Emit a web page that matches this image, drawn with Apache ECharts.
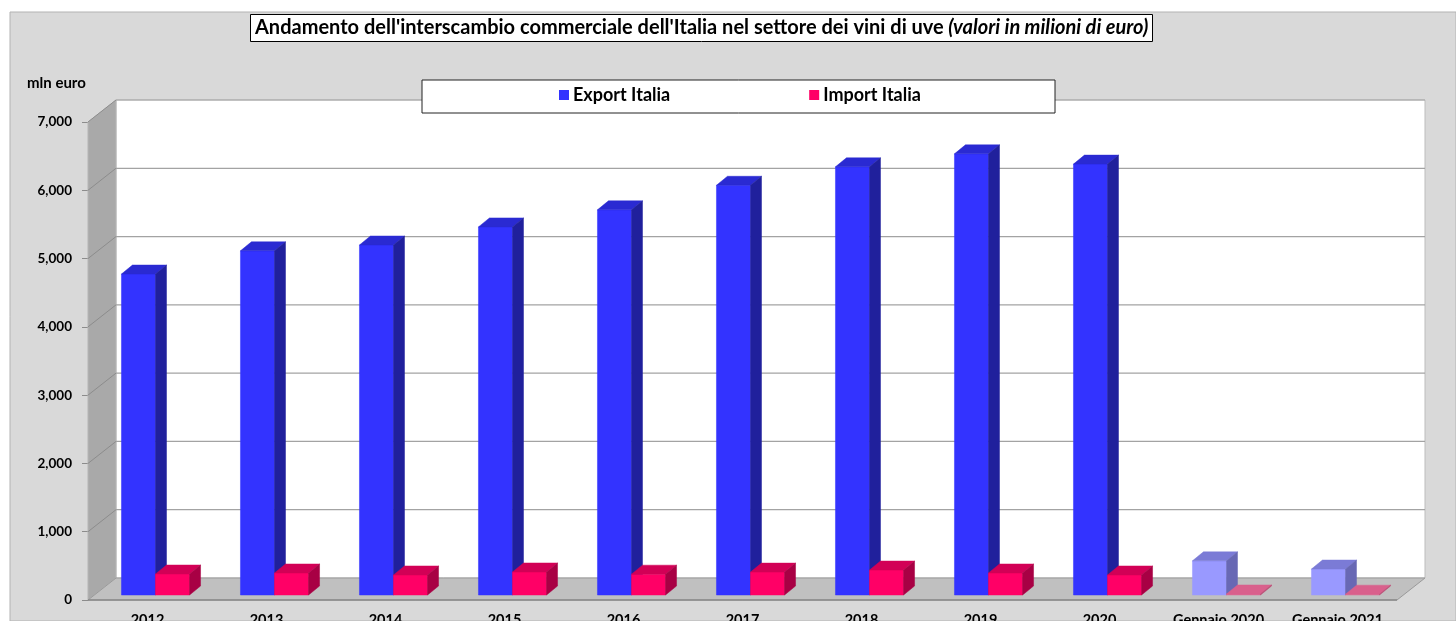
<!DOCTYPE html>
<html>
<head>
<meta charset="utf-8">
<script src="https://cdn.jsdelivr.net/npm/echarts@6/dist/echarts.min.js"></script>
<style>
html,body{margin:0;padding:0;background:#fff;}
#chart{width:1456px;height:621px;}
</style>
</head>
<body>
<div id="chart"></div>
<script>
// ---- data ----
const categories = ['2012','2013','2014','2015','2016','2017','2018','2019','2020','Gennaio 2020','Gennaio 2021'];
const exportValues = [4700, 5040, 5125, 5390, 5640, 6000, 6270, 6460, 6310, 500, 380];
const importValues = [307, 322, 293, 337, 305, 335, 365, 322, 293, 15, 12];
const partialCategories = ['Gennaio 2020', 'Gennaio 2021'];
const yTicks = [0, 1000, 2000, 3000, 4000, 5000, 6000, 7000];

// ---- geometry / style ----
const DX = 28, DY = -22;     // depth of the floor / walls
const BX = 8, BY = -5;       // bar front plane offset
const BDX = 11, BDY = -9;    // bar depth
const BAR_FRAC = 0.286;
const FONT = 'Lato, "Open Sans", "Liberation Sans", sans-serif';

const palette = {
  export: {front:'#3333ff', top:'#2a2ad2', side:'#20209c'},
  exportLight: {front:'#9999ff', top:'#7b7bd6', side:'#6868b4'},
  import: {front:'#ff0066', top:'#d20056', side:'#a80044'},
  importLight: {front:'#dd6892', top:'#d9608c', side:'#b94c74'}
};

function barRender(kind) {
  return function (params, api) {
    const i = api.value(0), v = api.value(1);
    const c0 = api.coord([i, 0]);
    const c1 = api.coord([i, v]);
    const band = api.size([1, 0])[0];
    const w = band * BAR_FRAC;
    const x0 = c0[0] + (kind === 'export' ? -w : 0) + BX;
    const x1 = x0 + w;
    const yb = c0[1] + BY;
    const yt = Math.min(c1[1] + BY, yb - 0.8);
    const partial = partialCategories.indexOf(categories[i]) >= 0;
    const col = palette[kind + (partial ? 'Light' : '')];
    return {
      type: 'group',
      children: [
        {type:'polygon', shape:{points:[[x0,yb],[x1,yb],[x1,yt],[x0,yt]]}, style:{fill:col.front, stroke:col.front, lineWidth:0.5}},
        {type:'polygon', shape:{points:[[x0,yt],[x1,yt],[x1+BDX,yt+BDY],[x0+BDX,yt+BDY]]}, style:{fill:col.top, stroke:col.top, lineWidth:0.5}},
        {type:'polygon', shape:{points:[[x1,yb],[x1+BDX,yb+BDY],[x1+BDX,yt+BDY],[x1,yt]]}, style:{fill:col.side, stroke:col.side, lineWidth:0.5}}
      ]
    };
  };
}

function wallsRender(params, api) {
  const cs = params.coordSys;
  const xl = cs.x, xr = cs.x + cs.width;
  const y0 = api.coord([0, 0])[1];
  const y7 = api.coord([0, yTicks[yTicks.length - 1]])[1];
  const children = [];
  // back wall
  children.push({type:'polygon', shape:{points:[[xl+DX,y7+DY],[xr+DX,y7+DY],[xr+DX,y0+DY],[xl+DX,y0+DY]]}, style:{fill:'#ffffff', stroke:'#bdbdbd', lineWidth:1}});
  // left wall
  children.push({type:'polygon', shape:{points:[[xl,y0],[xl,y7],[xl+DX,y7+DY],[xl+DX,y0+DY]]}, style:{fill:'#a9a9a9', stroke:'#b5b5b5', lineWidth:1}});
  // floor
  children.push({type:'polygon', shape:{points:[[xl,y0],[xr,y0],[xr+DX,y0+DY],[xl+DX,y0+DY]]}, style:{fill:'#c0c0c0', stroke:'#9a9a9a', lineWidth:1}});
  // gridlines
  yTicks.forEach(function (t) {
    if (t === 0) return;
    const y = api.coord([0, t])[1];
    children.push({type:'line', shape:{x1:xl+DX, y1:y+DY, x2:xr+DX, y2:y+DY}, style:{stroke:'#a3a3a3', lineWidth:1.2}});
    children.push({type:'line', shape:{x1:xl, y1:y, x2:xl+DX, y2:y+DY}, style:{stroke:'#8c8c8c', lineWidth:1}});
  });
  // front edge of floor
  children.push({type:'line', shape:{x1:xl, y1:y0, x2:xr, y2:y0}, style:{stroke:'#8a8a8a', lineWidth:1.5}});
  return {type:'group', children: children};
}

const chart = echarts.init(document.getElementById('chart'), null, {renderer:'canvas'});
chart.setOption({
  backgroundColor: '#ffffff',
  animation: false,
  textStyle: {fontFamily: FONT},
  title: {
    left: 250, top: 13,
    text: "{b|Andamento dell'interscambio commerciale dell'Italia nel settore dei vini di uve} {i|(valori in milioni di euro)}",
    backgroundColor: '#ffffff', borderColor: '#000000', borderWidth: 1,
    padding: [4, 4, 4, 5],
    textStyle: {
      rich: {
        b: {fontFamily: FONT, fontWeight: 'bold', fontSize: 20, color: '#000', lineHeight: 22},
        i: {fontFamily: FONT, fontStyle: 'italic', fontSize: 20, color: '#000', lineHeight: 22}
      }
    }
  },
  legend: {
    data: ['Export Italia', 'Import Italia'],
    left: 559, top: 86, z: 20,
    icon: 'rect', itemWidth: 10, itemHeight: 10, itemGap: 139,
    padding: 0,
    textStyle: {fontFamily: FONT, fontWeight: 'bold', fontSize: 18, color: '#000', padding: [0,0,0,-1]}
  },
  graphic: [
    {type:'rect', z:-10, shape:{x:10, y:12, width:1446, height:609}, style:{fill:'#d9d9d9', stroke:'#b3b3b3', lineWidth:1}},
    {type:'rect', z:15, shape:{x:422, y:80, width:633, height:33}, style:{fill:'#ffffff', stroke:'#222', lineWidth:1}},
    {type:'text', z:15, left:27, top:76, style:{text:'mln euro', font:'bold 15px ' + FONT, fill:'#000'}}
  ],
  grid: {left: 88, right: 59, top: 122, bottom: 21, containLabel: false, outerBoundsMode: 'none'},
  xAxis: {
    type: 'category', data: categories,
    axisLine: {show: false}, axisTick: {show: false},
    axisLabel: {color: '#000', fontWeight: 'bold', fontSize: 14.5, fontFamily: FONT, margin: 13, interval: 0}
  },
  yAxis: {
    type: 'value', min: 0, max: 7000, interval: 1000,
    axisLine: {show: true, lineStyle: {color: '#8c8c8c'}},
    axisTick: {show: true, length: 6, lineStyle: {color: '#8c8c8c'}},
    splitLine: {show: false},
    axisLabel: {color: '#000', fontWeight: 'bold', fontSize: 13.5, fontFamily: FONT, margin: 16,
      formatter: function (v) { return v.toLocaleString('en-US'); }}
  },
  series: [
    {type:'custom', name:'walls', silent:true, z:1, renderItem: wallsRender, data:[[0, 0]]},
    {type:'custom', name:'Export Italia', z:3, color:'#3333ff', itemStyle:{color:'#3333ff'}, renderItem: barRender('export'),
      data: exportValues.map(function (v, i) { return [i, v]; })},
    {type:'custom', name:'Import Italia', z:4, color:'#ff0066', itemStyle:{color:'#ff0066'}, renderItem: barRender('import'),
      data: importValues.map(function (v, i) { return [i, v]; })}
  ]
});
</script>
</body>
</html>
